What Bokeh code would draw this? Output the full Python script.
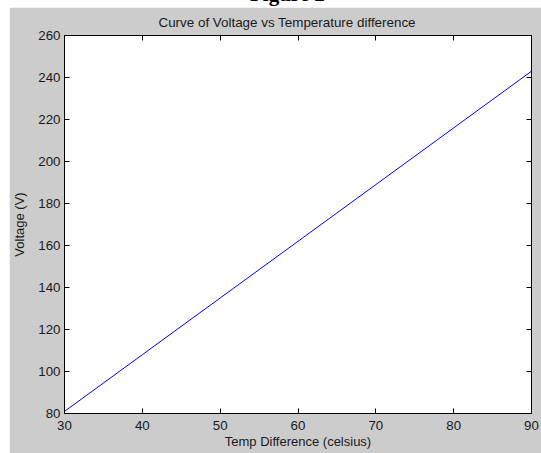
from bokeh.plotting import figure
from bokeh.models import Range1d, LinearAxis, FixedTicker, Title, Div, Spacer
from bokeh.layouts import column, row
from bokeh.embed import file_html
from bokeh.resources import INLINE

temp_diff = [30, 40, 50, 60, 70, 80, 90]
voltage = [81, 108, 135, 162, 189, 216, 243]
x_ticks = [30, 40, 50, 60, 70, 80, 90]
y_ticks = [80, 100, 120, 140, 160, 180, 200, 220, 240, 260]

FONT = "Liberation Sans"
GRAY = "#cccccc"
TXT = "#1a1a1a"

p = figure(width=532, height=446, output_backend="svg", toolbar_location=None,
           x_range=Range1d(30, 90), y_range=Range1d(80, 260),
           min_border_left=53, min_border_right=10, min_border_top=28, min_border_bottom=40,
           x_axis_location=None, y_axis_location=None)
p.border_fill_color = GRAY
p.background_fill_color = "white"
p.outline_line_color = "black"
p.outline_line_width = 1
p.xgrid.visible = False
p.ygrid.visible = False

def style(ax, labels=True):
    ax.axis_line_color = "black"
    ax.major_tick_in = 5
    ax.major_tick_out = 0
    ax.minor_tick_line_color = None
    ax.major_tick_line_color = "black"
    ax.major_label_text_font = FONT
    ax.major_label_text_font_size = "13.3px" if labels else "0px"
    ax.major_label_text_color = TXT
    ax.axis_label_text_font = FONT
    ax.axis_label_text_font_size = "13px"
    ax.axis_label_text_font_style = "normal"
    ax.axis_label_text_color = TXT
    if not labels:
        ax.major_label_standoff = 0

xb = LinearAxis(ticker=FixedTicker(ticks=x_ticks), axis_label="Temp Difference (celsius)")
style(xb)
xb.major_label_standoff = 7
xb.axis_label_standoff = 1
yl = LinearAxis(ticker=FixedTicker(ticks=y_ticks), axis_label="Voltage (V)")
style(yl)
yl.major_label_standoff = 4
yl.axis_label_standoff = 8
xt = LinearAxis(ticker=FixedTicker(ticks=x_ticks))
style(xt, labels=False)
yr = LinearAxis(ticker=FixedTicker(ticks=y_ticks))
style(yr, labels=False)

p.add_layout(xb, "below")
p.add_layout(yl, "left")
p.add_layout(xt, "above")
p.add_layout(yr, "right")

p.title = Title(text="Curve of Voltage vs Temperature difference", align="left", offset=94,
                text_font=FONT, text_font_size="13.4px", text_font_style="normal",
                text_color=TXT, standoff=11)

p.line(temp_diff, voltage, line_color="#0000ff", line_width=1)

header = Div(text='<div style="position:absolute; top:-16px; left:250px; '
                  'font-family:\'Liberation Serif\'; font-weight:bold; font-size:21px; '
                  'line-height:21px; white-space:nowrap; color:black;">Figure 2</div>',
             width=541, height=7,
             styles={"overflow": "hidden", "position": "relative", "height": "7px",
                     "min-height": "7px", "max-height": "7px", "padding": "0", "margin": "0"})

layout = column(header, row(Spacer(width=9, height=446), p))

open("out.html", "w").write(file_html(layout, INLINE))
